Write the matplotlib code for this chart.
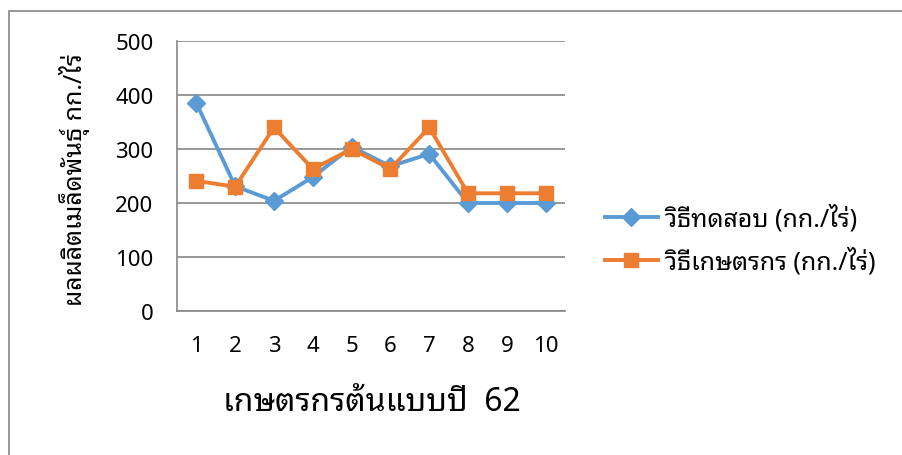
import matplotlib
matplotlib.use("Agg")
import matplotlib.pyplot as plt
from matplotlib.patches import Rectangle

plt.rcParams['font.family'] = ['Noto Sans', 'Noto Sans Thai Looped', 'DejaVu Sans']

farmers = ['1', '2', '3', '4', '5', '6', '7', '8', '9', '10']
test_method = [385, 231, 204, 248, 304, 268, 291, 200, 200, 200]
farmer_method = [241, 230, 340, 263, 300, 263, 340, 218, 218, 218]
series_names = ['วิธีทดสอบ (กก./ไร่)', 'วิธีเกษตรกร (กก./ไร่)']
y_ticks = [0, 100, 200, 300, 400, 500]
x_title = 'เกษตรกรต้นแบบปี  62'
y_title = 'ผลผลิตเมล็ดพันธุ์ กก./ไร่'

W, H = 902, 456
fig = plt.figure(figsize=(W / 100, H / 100), dpi=100)
fig.patches.append(Rectangle((9 / W, -0.1), 1.2, (H - 12) / H + 0.1, transform=fig.transFigure,
                             fill=False, edgecolor='#868686', linewidth=1.2))

ax = fig.add_axes([177 / W, 1 - 312 / H, (565 - 177) / W, (312 - 42) / H])
x = list(range(len(farmers)))
ax.plot(x, test_method, color='#5B9BD5', linewidth=2.8, marker='D', markersize=9.5,
        label=series_names[0], zorder=3)
ax.plot(x, farmer_method, color='#ED7D31', linewidth=2.8, marker='s', markersize=10.5,
        label=series_names[1], zorder=3)

ax.set_xlim(-0.5, len(farmers) - 0.5)
ax.set_ylim(0, 500)
ax.set_yticks(y_ticks)
ax.set_xticks(x)
ax.set_xticklabels(farmers)
ax.tick_params(axis='both', length=0, labelsize=16, colors='black')
ax.tick_params(axis='y', pad=17)
ax.tick_params(axis='x', pad=17)
ax.grid(axis='y', color='#868686', linewidth=1.2)
ax.set_axisbelow(True)
for s in ['top', 'right']:
    ax.spines[s].set_visible(False)
for s in ['left', 'bottom']:
    ax.spines[s].set_color('#868686')
    ax.spines[s].set_linewidth(1.2)

fig.text(372 / W, 1 - 403 / H, x_title, ha='center', va='center', fontsize=23)
fig.text(74 / W, 1 - 180 / H, y_title, ha='center', va='center', rotation=90, fontsize=18)

ax.legend(loc='center left', bbox_to_anchor=(600 / W, 1 - 240 / H), bbox_transform=fig.transFigure,
          frameon=False, fontsize=18, handlelength=2.1, labelspacing=0.62, handletextpad=0.3,
          borderaxespad=0, borderpad=0.2)

fig.savefig('out.png', dpi=100)
